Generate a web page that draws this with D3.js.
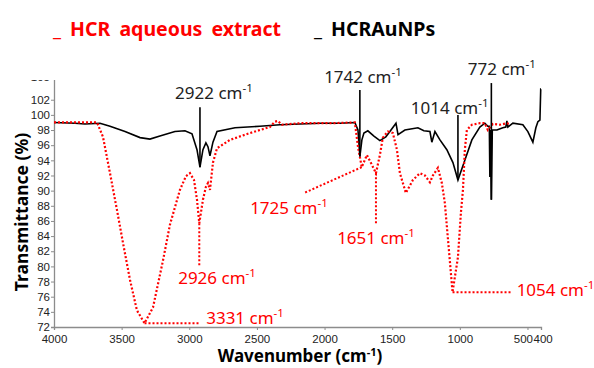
<!DOCTYPE html>
<html>
<head>
<meta charset="utf-8">
<script src="https://cdn.jsdelivr.net/npm/d3@7"></script>
<style>
  body { margin: 0; background: #fff; }
  svg text { font-family: "Noto Sans", "Liberation Sans", sans-serif; }
  .tick text { font-family: "Liberation Sans", Arial, sans-serif; }
</style>
</head>
<body>
<div id="chart"></div>
<script>
// HCRAuNPs (black, solid) : wavenumber / transmittance
const auWave = [4000, 3845, 3771, 3660, 3586, 3475, 3364, 3291, 3217, 3106, 3032, 2980, 2943, 2921, 2899, 2877, 2862, 2847, 2825, 2795,
  2662, 2478, 2330, 2182, 2034, 1886, 1776, 1753, 1739, 1724, 1709, 1680, 1635, 1591, 1547, 1517, 1472, 1457, 1406, 1310,
  1266, 1221, 1207, 1184, 1147, 1096, 1051, 1014, 963, 911, 852, 815, 793, 782, 778, 774, 767, 760, 726, 682,
  660, 652, 645, 608, 534, 497, 460, 438, 423, 408, 402, 400];
const auT = [99.0, 98.9, 98.8, 98.9, 98.5, 97.8, 97.0, 96.8, 97.2, 97.8, 97.9, 97.5, 95.4, 93.1, 95.4, 96.3, 95.8, 94.6, 96.4, 97.8,
  98.3, 98.5, 98.7, 98.8, 98.9, 98.9, 99.0, 98.0, 94.5, 96.7, 97.6, 97.9, 97.2, 96.6, 97.1, 97.8, 98.9, 97.4, 98.0, 98.3,
  97.9, 97.8, 96.4, 97.8, 96.7, 95.4, 93.7, 91.4, 94.0, 96.7, 98.4, 98.9, 98.5, 98.5, 91.8, 98.0, 88.8, 98.0, 98.0, 98.3,
  98.4, 99.2, 98.4, 98.9, 98.7, 97.8, 96.4, 98.3, 99.1, 99.3, 103.4, 103.4];

// HCR aqueous extract (red, dotted)
const hcrWave = [4000, 3682, 3638, 3586, 3534, 3490, 3438, 3387, 3331, 3268, 3194, 3143, 3069, 3025, 2995, 2965, 2943, 2926, 2899, 2877,
  2862, 2847, 2825, 2795, 2699, 2552, 2404, 2367, 2345, 2315, 2182, 1960, 1776, 1753, 1725, 1687, 1650, 1620, 1591, 1569,
  1532, 1495, 1465, 1443, 1399, 1347, 1295, 1258, 1221, 1199, 1162, 1133, 1111, 1081, 1054, 1014, 992, 977, 963, 948,
  911, 852, 815, 793, 756, 704, 652, 630];
const hcrT = [99.0, 99.0, 97.1, 92.3, 87.4, 83.1, 78.2, 74.2, 72.5, 74.6, 80.8, 85.5, 90.1, 91.9, 92.3, 91.4, 88.8, 85.7, 88.8, 90.5,
  91.0, 90.1, 93.7, 95.6, 96.7, 97.6, 98.4, 99.1, 99.2, 98.7, 98.9, 98.9, 99.0, 95.8, 93.1, 94.7, 93.4, 92.3, 94.7, 97.0,
  97.8, 97.6, 95.4, 92.3, 89.7, 91.4, 92.3, 92.0, 91.1, 92.0, 93.0, 91.0, 88.4, 82.2, 76.6, 81.2, 87.1, 90.1, 95.4, 98.0,
  98.7, 98.9, 98.9, 98.0, 98.8, 98.7, 98.9, 98.8];

const xTicks = [4000, 3500, 3000, 2500, 2000, 1500, 1000, 500, 400];
const yTicks = [72, 74, 76, 78, 80, 82, 84, 86, 88, 90, 92, 94, 96, 98, 100, 102, 105];

// black peak labels: [label, peak wavenumber, line top, peak T, text x, text y]
const auPeaks = [
  ["2922", 2921, 101.0, 93.1, 2818, 102.9],
  ["1742", 1739, 103.3, 94.5, 1716, 105.0],
  ["1014", 1014, 100.0, 91.4, 1075, 100.9],
  ["772", 767, 104.2, 88.8, 690, 106.1]
];
// red peak labels: [label, peak wavenumber, peak T, line end wavenumber, line end T, text x, text y, anchor]
const hcrPeaks = [
  ["3331", 3331, 72.5, 2925, 72.5, 2875, 73.2, "start"],
  ["2926", 2926, 85.7, 2926, 79.9, 2795, 78.5, "middle"],
  ["1725", 1725, 93.1, 2150, 89.7, 2550, 87.7, "start"],
  ["1651", 1620, 92.3, 1620, 85.6, 1620, 83.7, "middle"],
  ["1054", 1054, 76.6, 620, 76.6, 580, 76.9, "start"]
];

const width = 594, height = 368;
const red = "#ff0000";

const x = d3.scaleLinear().domain([4000, 400]).range([54, 541]);
const y = d3.scaleLinear().domain([72, 105]).range([327, 77]);

const svg = d3.select("#chart")
  .append("svg")
  .attr("width", width)
  .attr("height", height);

svg.append("clipPath").attr("id", "axclip")
  .append("rect").attr("x", -60).attr("y", 80).attr("width", width).attr("height", height);

// axes
const yAxis = svg.append("g")
  .attr("clip-path", "url(#axclip)")
  .attr("transform", "translate(" + x(4000) + ",0)")
  .call(d3.axisLeft(y).tickValues(yTicks).tickSize(3).tickPadding(1));
const xAxis = svg.append("g")
  .attr("transform", "translate(0," + y(72) + ")")
  .call(d3.axisBottom(x).tickValues(xTicks).tickFormat(d3.format("d")).tickSize(3).tickPadding(1));

[xAxis, yAxis].forEach(function (g) {
  g.select(".domain").attr("stroke", "#8c8c8c").attr("stroke-width", 1.3);
  g.selectAll(".tick line").attr("stroke", "#8c8c8c");
  g.selectAll(".tick text").attr("fill", "#222").style("font-size", "11.5px");
});
xAxis.selectAll(".tick text").attr("dy", "1em");
// the 500 and 400 labels sit side by side
xAxis.selectAll(".tick text").filter(d => d === 500).attr("text-anchor", "end").attr("x", 5);
xAxis.selectAll(".tick text").filter(d => d === 400).attr("text-anchor", "start").attr("x", -8);

// axis titles
const xt = svg.append("text")
  .attr("x", 300).attr("y", 362)
  .attr("text-anchor", "middle")
  .style("font-size", "17px").style("font-weight", "bold");
xt.append("tspan").text("Wavenumber (cm");
xt.append("tspan").attr("dy", -6).style("font-size", "11px").text("-1");
xt.append("tspan").attr("dy", 6).text(")");

svg.append("text")
  .attr("transform", "translate(28,212) rotate(-90)")
  .attr("text-anchor", "middle")
  .style("font-size", "17.5px").style("font-weight", "bold")
  .text("Transmittance (%)");

// legend
svg.append("text")
  .attr("x", 53).attr("y", 36)
  .attr("fill", red)
  .style("font-size", "19.5px").style("font-weight", "bold")
  .style("word-spacing", "4px")
  .text("_ HCR aqueous extract");
svg.append("text")
  .attr("x", 314).attr("y", 36)
  .attr("fill", "#000")
  .style("font-size", "19.5px").style("font-weight", "bold")
  .style("word-spacing", "4px")
  .text("_ HCRAuNPs");

// spectra
const line = d3.line().x(d => x(d[0])).y(d => y(d[1]));

svg.append("path")
  .datum(auWave.map((w, i) => [w, auT[i]]))
  .attr("fill", "none")
  .attr("stroke", "#000")
  .attr("stroke-width", 1.6)
  .attr("d", line);

svg.append("path")
  .datum(hcrWave.map((w, i) => [w, hcrT[i]]))
  .attr("fill", "none")
  .attr("stroke", red)
  .attr("stroke-width", 2.2)
  .attr("stroke-dasharray", "2,2")
  .attr("d", line);

function label(g, txt, color) {
  g.append("tspan").text(txt + " cm");
  g.append("tspan").attr("dy", -7).style("font-size", "11.5px").text("-1");
  g.attr("fill", color);
}

// black annotations
auPeaks.forEach(function (p) {
  svg.append("line")
    .attr("x1", x(p[1])).attr("x2", x(p[1]))
    .attr("y1", y(p[2])).attr("y2", y(p[3]))
    .attr("stroke", "#000").attr("stroke-width", 1.6);
  const t = svg.append("text")
    .attr("x", x(p[4])).attr("y", y(p[5]) + 6)
    .attr("text-anchor", "middle")
    .style("font-size", "17px");
  label(t, p[0], "#222");
});

// red annotations
hcrPeaks.forEach(function (p) {
  svg.append("line")
    .attr("x1", x(p[1])).attr("y1", y(p[2]))
    .attr("x2", x(p[3])).attr("y2", y(p[4]))
    .attr("stroke", red).attr("stroke-width", 2)
    .attr("stroke-dasharray", "2,2");
  const t = svg.append("text")
    .attr("x", x(p[5])).attr("y", y(p[6]) + 6)
    .attr("text-anchor", p[7])
    .style("font-size", "17px");
  label(t, p[0], red);
});
</script>
</body>
</html>
